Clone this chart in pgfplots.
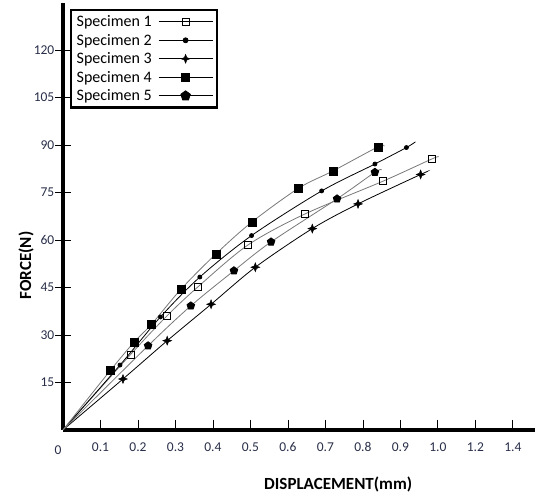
\documentclass[border=0pt]{standalone}
\usepackage{fontspec}
\setmainfont{Carlito}
\usepackage{pgfplots}
\pgfplotsset{compat=1.18}
\definecolor{ticktext}{RGB}{40,46,72}
\definecolor{lgray}{RGB}{120,120,120}
\pgfdeclareplotmark{star4}{%
  \pgfpathmoveto{\pgfqpoint{0pt}{\pgfplotmarksize}}%
  \pgfpathlineto{\pgfqpoint{0.28\pgfplotmarksize}{0.28\pgfplotmarksize}}%
  \pgfpathlineto{\pgfqpoint{\pgfplotmarksize}{0pt}}%
  \pgfpathlineto{\pgfqpoint{0.28\pgfplotmarksize}{-0.28\pgfplotmarksize}}%
  \pgfpathlineto{\pgfqpoint{0pt}{-\pgfplotmarksize}}%
  \pgfpathlineto{\pgfqpoint{-0.28\pgfplotmarksize}{-0.28\pgfplotmarksize}}%
  \pgfpathlineto{\pgfqpoint{-\pgfplotmarksize}{0pt}}%
  \pgfpathlineto{\pgfqpoint{-0.28\pgfplotmarksize}{0.28\pgfplotmarksize}}%
  \pgfpathclose
  \pgfusepathqfillstroke}
\begin{document}
\begin{tikzpicture}
\begin{axis}[
  x=375pt, y=3.167pt,
  xmin=0, xmax=1.259, ymin=0, ymax=135,
  axis lines=left,
  axis line style={line width=3.6pt,-},
  xtick={0.1,0.2,0.3,0.4,0.5,0.6,0.7,0.8,0.9,1.0,1.1,1.2},
  xticklabels={0.1,0.2,0.3,0.4,0.5,0.6,0.7,0.8,0.9,1.0,1.2,1.4},
  extra x ticks={0}, extra x tick labels={0},
  extra x tick style={xticklabel style={xshift=-5pt,yshift=-3pt}, /pgfplots/major tick length=0pt},
  ytick={15,30,45,60,75,90,105,120},
  xtick align=inside, ytick align=center,
  xtick style={black, line width=0.8pt, /pgfplots/major tick length=10pt},
  ytick style={black, line width=0.8pt, /pgfplots/major tick length=16pt},
  /pgf/number format/assume math mode=true,
  tick label style={font=\fontsize{13.5}{15}\selectfont, text=ticktext},
  xticklabel style={yshift=-9pt},
  yticklabel style={xshift=-3pt},
  xlabel={DISPLACEMENT(mm)},
  ylabel={FORCE(N)},
  every axis x label/.style={at={(axis description cs:0.583,-0.128)}, anchor=center, font=\fontsize{17}{19}\selectfont\bfseries},
  every axis y label/.style={at={(axis description cs:-0.078,0.385)}, rotate=90, anchor=center, font=\fontsize{17}{19}\selectfont\bfseries},
  legend plot pos=right,
  legend cell align=left,
  legend image code/.code={\draw[mark repeat=2,mark phase=2] plot coordinates {(0cm,0cm) (0.95cm,0cm) (1.9cm,0cm)};},
  legend style={at={(axis description cs:0.015,0.985)}, anchor=north west, draw=black, line width=2.2pt,
    font=\fontsize{16}{17}\selectfont, row sep=3pt, column sep=5pt, inner sep=4pt,
    nodes={inner sep=1.5pt}},
  clip=false,
]
% Specimen 1
\addplot[lgray, line width=0.8pt, smooth, mark=square, mark size=3.5pt,
  mark options={black, fill=white, line width=0.7pt},
  mark indices={2,3,4,5,6,7,8}, forget plot] coordinates {
  (0,0) (0.18,23.8) (0.277,36) (0.359,45.1) (0.493,58.4) (0.645,68.2) (0.854,78.6) (0.984,85.6) (1.002,86.3)};
% Specimen 2
\addplot[black, line width=0.8pt, smooth, mark=*, mark size=2pt,
  mark options={black},
  mark indices={2,3,4,5,6,7,8}, forget plot] coordinates {
  (0,0) (0.152,20.5) (0.26,35.7) (0.365,48.3) (0.503,61.4) (0.69,75.5) (0.832,84) (0.916,89.2) (0.94,91)};
% Specimen 3
\addplot[black, line width=0.8pt, smooth, mark=star4, mark size=4.5pt,
  mark options={black, line width=0.4pt},
  mark indices={2,3,4,5,6,7,8}, forget plot] coordinates {
  (0,0) (0.16,16.1) (0.278,28.2) (0.395,39.7) (0.513,51.4) (0.665,63.6) (0.787,71.4) (0.954,80.7) (0.97,81.5)};
% Specimen 4
\addplot[lgray, line width=0.8pt, smooth, mark=square*, mark size=4pt,
  mark options={black},
  mark indices={2,3,4,5,6,7,8,9,10}, forget plot] coordinates {
  (0,0) (0.127,18.9) (0.19,27.8) (0.237,33.5) (0.315,44.5) (0.408,55.6) (0.504,65.7) (0.629,76.4) (0.72,81.8) (0.84,89.4) (0.857,89.6)};
% Specimen 5
\addplot[lgray, line width=0.8pt, smooth, mark=pentagon*, mark size=4pt,
  mark options={black},
  mark indices={2,3,4,5,6,7}, forget plot] coordinates {
  (0,0) (0.227,26.6) (0.341,39.2) (0.456,50.3) (0.555,59.4) (0.731,73) (0.832,81.4) (0.85,82.2)};
\addlegendimage{black, line width=0.8pt, mark=square, mark size=3.5pt, mark options={black, fill=white, line width=0.7pt}}
\addlegendentry{Specimen 1}
\addlegendimage{black, line width=0.8pt, mark=*, mark size=2.5pt}
\addlegendentry{Specimen 2}
\addlegendimage{black, line width=0.8pt, mark=star4, mark size=4.5pt, mark options={line width=0.4pt}}
\addlegendentry{Specimen 3}
\addlegendimage{black, line width=0.8pt, mark=square*, mark size=4pt}
\addlegendentry{Specimen 4}
\addlegendimage{black, line width=0.8pt, mark=pentagon*, mark size=5pt}
\addlegendentry{Specimen 5}
\coordinate (bbl) at (axis cs:-0.168,-20.2);
\coordinate (btr) at (axis cs:1.259,135.8);
\end{axis}
\pgfresetboundingbox
\path[use as bounding box] (bbl) rectangle (btr);
\end{tikzpicture}
\end{document}
